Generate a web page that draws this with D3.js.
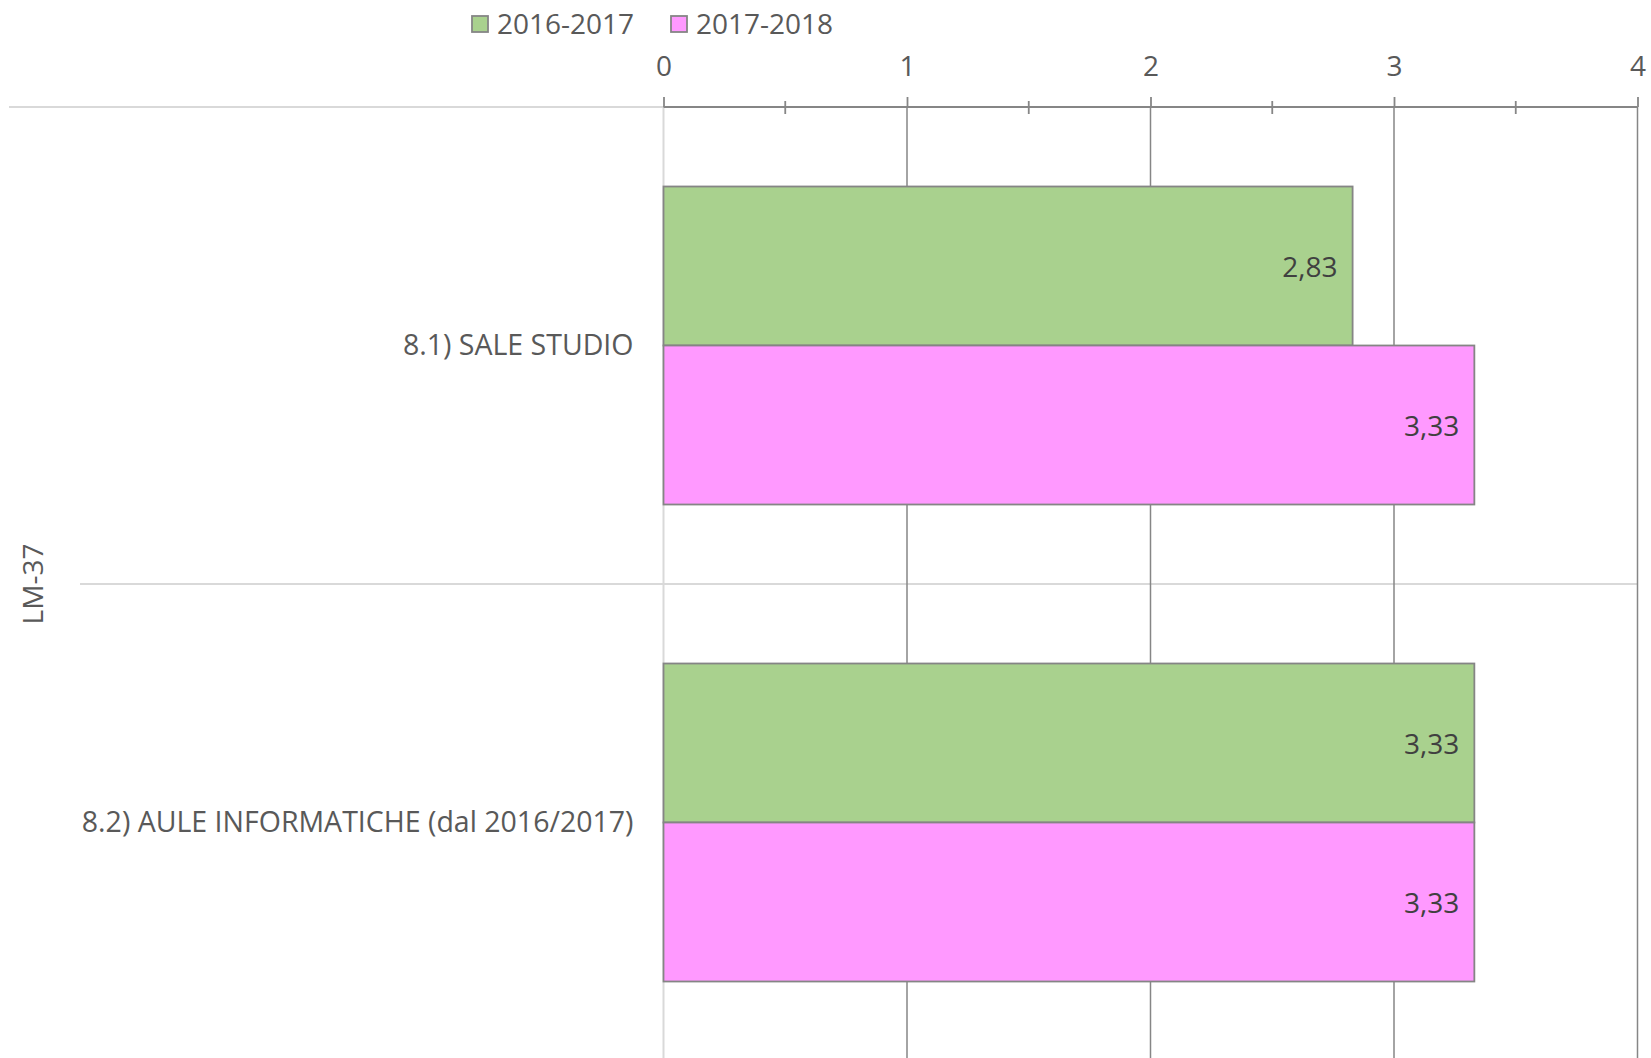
<!DOCTYPE html>
<html>
<head>
<meta charset="utf-8">
<script src="https://cdn.jsdelivr.net/npm/d3@7"></script>
<style>
  html, body { margin: 0; padding: 0; background: #fff; }
  svg { display: block; font-family: "Open Sans", sans-serif; }
</style>
</head>
<body>
<svg id="chart" width="1651" height="1058"></svg>
<script>
const categories = ["8.1) SALE STUDIO", "8.2) AULE INFORMATICHE (dal 2016/2017)"];
const outerCategory = "LM-37";
const seriesNames = ["2016-2017", "2017-2018"];
const values2016_2017 = [2.83, 3.33];
const values2017_2018 = [3.33, 3.33];
const seriesColors = ["#A9D18E", "#FF99FF"];
const tickValues = [0, 1, 2, 3, 4];

(function () {
const seriesValues = [values2016_2017, values2017_2018];
const svg = d3.select("#chart");
const W = 1651, H = 1058;
const pLeft = 663.5, pRight = 1637.5, pTop = 107, pBottom = 1061;

const it = d3.formatLocale({decimal: ",", thousands: ".", grouping: [3], currency: ["", "€"]});
const fmt = it.format(".2f");

const x = d3.scaleLinear().domain([0, 4]).range([pLeft, pRight]);
const y = d3.scaleBand().domain(categories).range([pTop, pBottom]).padding(0);
const bw = y.bandwidth();
const ySub = d3.scaleBand().domain(seriesNames).range([bw / 6, bw * 5 / 6]).padding(0);

// light category-axis lines
svg.append("line").attr("x1", 9).attr("x2", pLeft).attr("y1", pTop).attr("y2", pTop)
  .attr("stroke", "#d9d9d9").attr("stroke-width", 2);
svg.append("line").attr("x1", 80).attr("x2", pRight).attr("y1", y(categories[1])).attr("y2", y(categories[1]))
  .attr("stroke", "#d9d9d9").attr("stroke-width", 2);

// gridlines
const grid = svg.append("g");
grid.selectAll("line").data(tickValues.filter(d => d > 0)).join("line")
  .attr("x1", d => x(d)).attr("x2", d => x(d)).attr("y1", pTop).attr("y2", H)
  .attr("stroke", "#868686").attr("stroke-width", 1.5);
svg.append("line").attr("x1", x(0)).attr("x2", x(0)).attr("y1", pTop).attr("y2", H)
  .attr("stroke", "#d9d9d9").attr("stroke-width", 2);

// bars
const data = [];
categories.forEach((c, i) => seriesNames.forEach((s, j) => data.push({c, s, j, v: seriesValues[j][i]})));
svg.append("g").selectAll("rect").data(data).join("rect")
  .attr("x", x(0))
  .attr("y", d => y(d.c) + ySub(d.s))
  .attr("width", d => x(d.v) - x(0))
  .attr("height", ySub.bandwidth())
  .attr("fill", d => seriesColors[d.j])
  .attr("stroke", "#858585").attr("stroke-width", 1.8);

// data labels
svg.append("g").selectAll("text").data(data).join("text")
  .attr("x", d => x(d.v) - 15)
  .attr("y", d => y(d.c) + ySub(d.s) + ySub.bandwidth() / 2)
  .attr("text-anchor", "end").attr("dominant-baseline", "central")
  .attr("fill", "#404040").attr("font-size", 28)
  .text(d => fmt(d.v));

// top value axis
const axis = d3.axisTop(x).tickValues(tickValues).tickSize(10).tickPadding(21).tickFormat(d => d);
const ag = svg.append("g").attr("transform", `translate(0,${pTop})`).call(axis);
ag.select(".domain").attr("stroke", "#868686").attr("stroke-width", 2).attr("d", `M${pLeft},0H${pRight}`);
ag.selectAll(".tick line").attr("stroke", "#868686").attr("stroke-width", 1.8);
ag.selectAll(".tick text").attr("fill", "#595959").attr("font-size", 28)
  .attr("font-family", "Open Sans, sans-serif");
// minor ticks
const minor = d3.range(0.5, 4, 1);
svg.append("g").selectAll("line").data(minor).join("line")
  .attr("x1", d => x(d)).attr("x2", d => x(d)).attr("y1", pTop - 6).attr("y2", pTop + 7)
  .attr("stroke", "#868686").attr("stroke-width", 1.8);

// category labels
svg.append("g").selectAll("text").data(categories).join("text")
  .attr("x", pLeft - 30)
  .attr("y", d => y(d) + bw / 2 - 2)
  .attr("text-anchor", "end").attr("dominant-baseline", "central")
  .attr("fill", "#595959").attr("font-size", 28.5)
  .text(d => d);

// outer category label
svg.append("text")
  .attr("transform", `translate(32,${y(categories[1])}) rotate(-90)`)
  .attr("text-anchor", "middle").attr("dominant-baseline", "central")
  .attr("fill", "#595959").attr("font-size", 28)
  .text(outerCategory);

// legend
const legendX = [472, 671];
const lg = svg.append("g");
seriesNames.forEach((s, j) => {
  lg.append("rect").attr("x", legendX[j]).attr("y", 16).attr("width", 16).attr("height", 16)
    .attr("fill", seriesColors[j]).attr("stroke", "#858585").attr("stroke-width", 1.8);
  lg.append("text").attr("x", legendX[j] + 25).attr("y", 23)
    .attr("dominant-baseline", "central").attr("fill", "#595959").attr("font-size", 28)
    .text(s);
});
})();
</script>
</body>
</html>
